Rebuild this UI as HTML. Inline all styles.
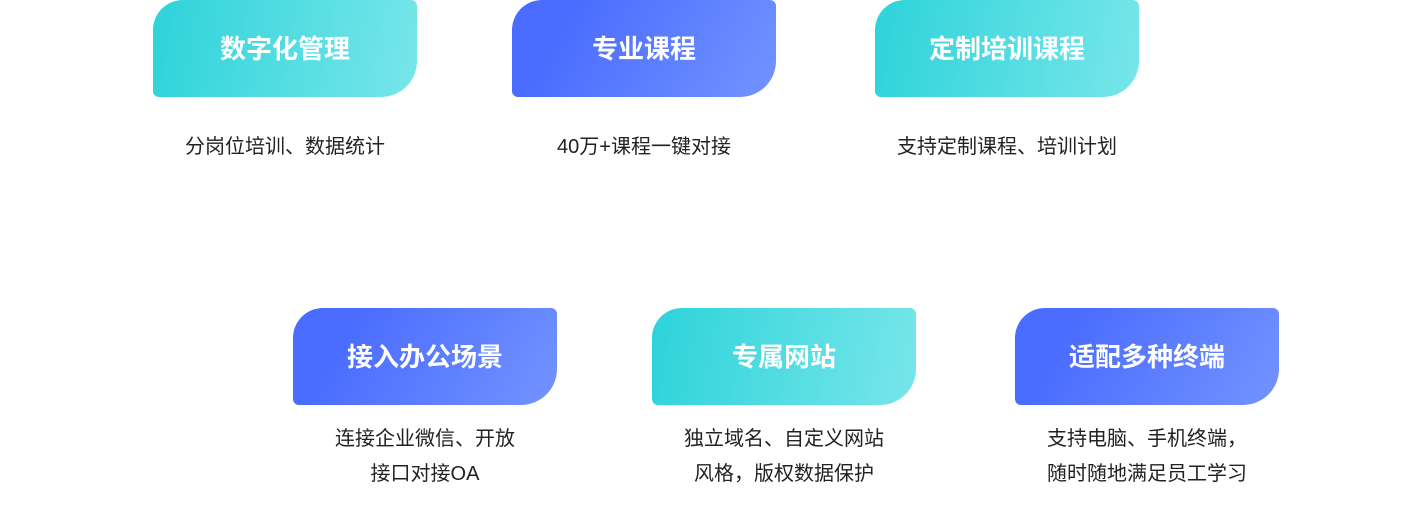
<!DOCTYPE html>
<html><head><meta charset="utf-8"><style>
html,body{margin:0;padding:0;background:#fff;width:1426px;height:505px;overflow:hidden;position:relative;font-family:"Liberation Sans","Noto Sans CJK SC",sans-serif}
.c{position:absolute;width:264px;height:97px;border-radius:30px 6px 36px 6px;color:#fff;font-weight:bold;font-size:26px;display:flex;align-items:center;justify-content:center;box-sizing:border-box;padding-bottom:3px}
.t{background:linear-gradient(100deg,#2dd3da,#77e6ea)}
.b{background:linear-gradient(120deg,#4a6cff 20%,#7393ff)}
.d{position:absolute;width:320px;text-align:center;font-size:20px;color:#222;line-height:35px}
</style></head><body>
<div class="c t" style="left:153px;top:0">数字化管理</div>
<div class="c b" style="left:512px;top:0">专业课程</div>
<div class="c t" style="left:875px;top:0">定制培训课程</div>
<div class="d" style="left:125px;top:130px">分岗位培训、数据统计</div>
<div class="d" style="left:484px;top:130px">40万+课程一键对接</div>
<div class="d" style="left:847px;top:130px">支持定制课程、培训计划</div>
<div class="c b" style="left:293px;top:308px">接入办公场景</div>
<div class="c t" style="left:652px;top:308px">专属网站</div>
<div class="c b" style="left:1015px;top:308px">适配多种终端</div>
<div class="d" style="left:265px;top:422px">连接企业微信、开放<br>接口对接OA</div>
<div class="d" style="left:624px;top:422px">独立域名、自定义网站<br>风格，版权数据保护</div>
<div class="d" style="left:987px;top:422px">支持电脑、手机终端，<br>随时随地满足员工学习</div>
</body></html>
